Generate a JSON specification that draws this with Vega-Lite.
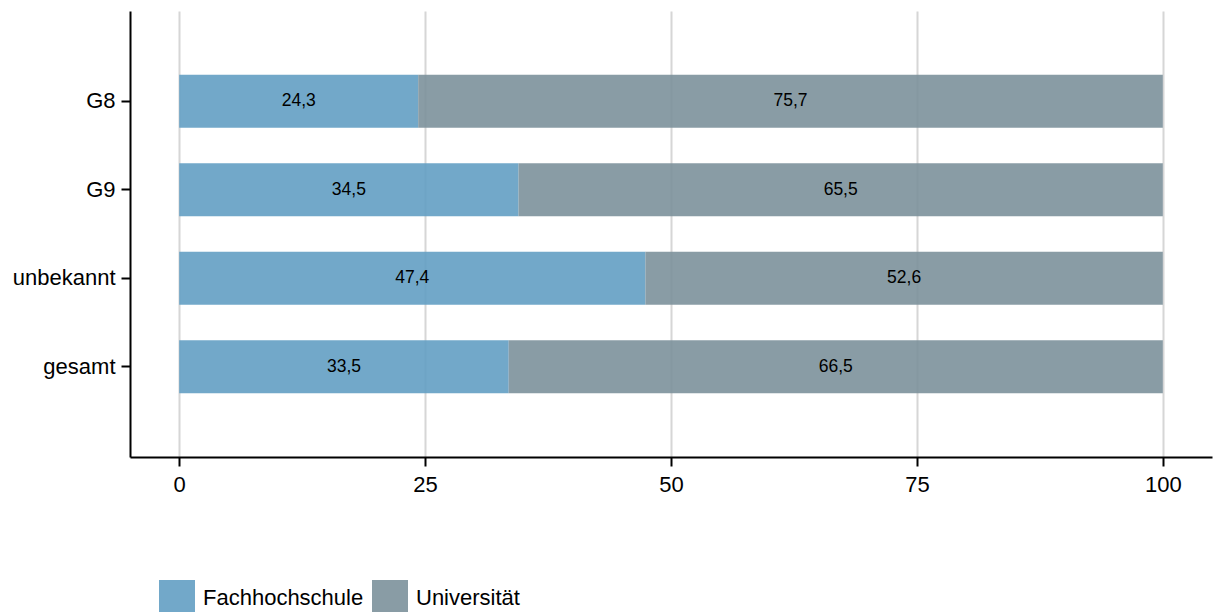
{
  "$schema": "https://vega.github.io/schema/vega-lite/v6.json",
  "width": 1082,
  "height": 446,
  "autosize": "none",
  "padding": {"left": 130, "top": 11, "right": 3, "bottom": 155},
  "config": {
    "locale": {"number": {"decimal": ",", "thousands": ".", "grouping": [3], "currency": ["", " €"]}},
    "font": "Liberation Sans",
    "view": {"stroke": null},
    "axis": {
      "domainColor": "black", "domainWidth": 2, "tickColor": "black", "tickWidth": 2,
      "labelColor": "black", "labelFontSize": 22, "labelFont": "Liberation Sans",
      "titleFontSize": 16
    }
  },
  "data": {"values": [
    {"cat": "G8", "typ": "Fachhochschule", "ord": 1, "value": 24.3},
    {"cat": "G8", "typ": "Universität", "ord": 2, "value": 75.7},
    {"cat": "G9", "typ": "Fachhochschule", "ord": 1, "value": 34.5},
    {"cat": "G9", "typ": "Universität", "ord": 2, "value": 65.5},
    {"cat": "unbekannt", "typ": "Fachhochschule", "ord": 1, "value": 47.4},
    {"cat": "unbekannt", "typ": "Universität", "ord": 2, "value": 52.6},
    {"cat": "gesamt", "typ": "Fachhochschule", "ord": 1, "value": 33.5},
    {"cat": "gesamt", "typ": "Universität", "ord": 2, "value": 66.5}
  ]},
  "transform": [
    {"stack": "value", "groupby": ["cat"], "sort": [{"field": "ord", "order": "ascending"}], "as": ["x0", "x1"]},
    {"calculate": "(datum.x0 + datum.x1) / 2", "as": "mid"}
  ],
  "encoding": {
    "y": {
      "field": "cat", "type": "nominal", "sort": ["G8", "G9", "unbekannt", "gesamt"],
      "scale": {"paddingInner": 0.4, "paddingOuter": 0.72},
      "axis": {"title": null, "tickSize": 9, "labelPadding": 6, "grid": false}
    }
  },
  "layer": [
    {
      "mark": {"type": "bar", "fillOpacity": 0.9},
      "encoding": {
        "x": {
          "field": "x0", "type": "quantitative",
          "scale": {"domain": [-5, 105], "nice": false, "zero": false},
          "axis": {"title": null, "values": [0, 25, 50, 75, 100], "grid": true, "gridColor": "#d6d6d6", "gridWidth": 2, "tickSize": 9, "labelPadding": 8, "format": "d"}
        },
        "x2": {"field": "x1"},
        "color": {
          "field": "typ", "type": "nominal",
          "scale": {"domain": ["Fachhochschule", "Universität"], "range": ["#639ec3", "#7c919b"]},
          "legend": {
            "title": null, "orient": "none", "direction": "horizontal",
            "legendX": 29, "legendY": 569, "symbolType": "square", "symbolSize": 1296,
            "symbolStrokeWidth": 0, "symbolOpacity": 0.9, "labelFontSize": 22, "labelColor": "black",
            "labelLimit": 400, "labelOffset": 8, "columnPadding": 8, "padding": 0
          }
        }
      }
    },
    {
      "mark": {"type": "text", "fontSize": 17.5, "color": "black"},
      "encoding": {
        "x": {"field": "mid", "type": "quantitative"},
        "text": {"field": "value", "type": "quantitative", "format": ".1f"}
      }
    }
  ]
}
